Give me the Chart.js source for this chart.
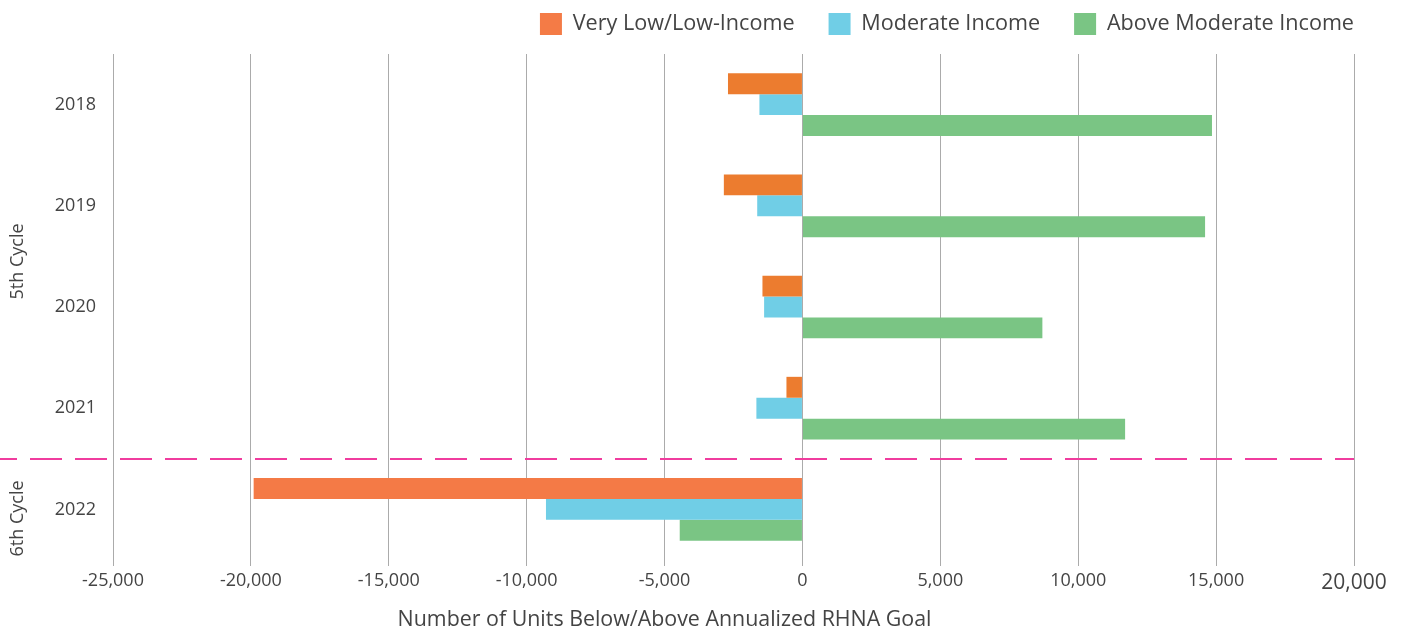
<!DOCTYPE html>
<html>
<head>
<meta charset="utf-8">
<title>RHNA progress by income level</title>
<script src="https://cdn.jsdelivr.net/npm/chart.js@4.4.1/dist/chart.umd.min.js"></script>
<style>
  html, body { margin: 0; padding: 0; background: #ffffff; }
  #wrap { position: relative; width: 1408px; height: 629px; }
</style>
</head>
<body>
<div id="wrap"><canvas id="chart"></canvas></div>
<script>
// Reporting years and the housing-element cycle each belongs to
const years = ['2018', '2019', '2020', '2021', '2022'];
const cycleGroups = [
  { label: '5th Cycle', first: 0, last: 3, shift: 5 },
  { label: '6th Cycle', first: 4, last: 4, shift: 9 }
];

// Units below (negative) or above (positive) the annualized RHNA goal
const veryLowLowIncome = [-2700, -2850, -1450, -580, -19900];
const moderateIncome = [-1560, -1640, -1390, -1670, -9300];
const aboveModerateIncome = [14850, 14600, 8700, 11700, -4450];

// Axis ticks
const xTickValues = [-25000, -20000, -15000, -10000, -5000, 0, 5000, 10000, 15000, 20000];

const seriesNames = ['Very Low/Low-Income', 'Moderate Income', 'Above Moderate Income'];
const legendColors = ['#F47B46', '#70CEE6', '#7AC584'];
const orangeBars = ['#EC7C2F', '#EC7C2F', '#EC7C2F', '#EC7C2F', '#F47A46'];

const FONT = '"Open Sans", "Noto Sans", sans-serif';
const TEXT = '#444444';

// Lift the legend row a little closer to the top edge
const legendLift = {
  id: 'legendLift',
  afterLayout(chart) {
    const lg = chart.legend;
    if (lg) { lg.top -= 9; lg.bottom -= 9; }
  }
};

// Dashed divider between the two cycles, cycle labels and the x-axis title
const annotations = {
  id: 'annotations',
  afterDatasetsDraw(chart) {
    const { ctx, chartArea, scales } = chart;
    const y = scales.y, x = scales.x;
    const step = y.getPixelForValue(1) - y.getPixelForValue(0);

    // divider between 2021 and 2022
    const yDiv = Math.round((y.getPixelForValue(3) + y.getPixelForValue(4)) / 2);
    ctx.save();
    ctx.strokeStyle = '#F03C9E';
    ctx.lineWidth = 2;
    ctx.setLineDash([32, 13]);
    ctx.lineDashOffset = 15;
    ctx.beginPath();
    ctx.moveTo(0, yDiv);
    ctx.lineTo(chartArea.right, yDiv);
    ctx.stroke();
    ctx.restore();

    // rotated cycle labels
    ctx.save();
    ctx.fillStyle = TEXT;
    ctx.font = '18px ' + FONT;
    ctx.textAlign = 'center';
    ctx.textBaseline = 'middle';
    cycleGroups.forEach(g => {
      const top = y.getPixelForValue(g.first) - step / 2;
      const bottom = y.getPixelForValue(g.last) + step / 2;
      const cy = (top + bottom) / 2 + g.shift;
      ctx.save();
      ctx.translate(18, cy);
      ctx.rotate(-Math.PI / 2);
      ctx.fillText(g.label, 0, 0);
      ctx.restore();
    });
    ctx.restore();

    // x-axis title
    ctx.save();
    ctx.fillStyle = TEXT;
    ctx.font = '21.4px ' + FONT;
    ctx.textAlign = 'center';
    ctx.textBaseline = 'middle';
    ctx.fillText('Number of Units Below/Above Annualized RHNA Goal', x.getPixelForValue(-5000), 620);
    ctx.restore();
  }
};

new Chart(document.getElementById('chart'), {
  type: 'bar',
  data: {
    labels: years,
    datasets: [
      { label: seriesNames[0], data: veryLowLowIncome, backgroundColor: orangeBars },
      { label: seriesNames[1], data: moderateIncome, backgroundColor: legendColors[1] },
      { label: seriesNames[2], data: aboveModerateIncome, backgroundColor: legendColors[2] }
    ]
  },
  options: {
    indexAxis: 'y',
    responsive: true,
    maintainAspectRatio: false,
    animation: false,
    categoryPercentage: 0.62,
    barPercentage: 1.0,
    layout: { padding: { left: 0, right: 20, top: -20, bottom: 0 } },
    plugins: {
      tooltip: { enabled: false },
      legend: {
        position: 'top',
        align: 'end',
        labels: {
          color: TEXT,
          font: { family: FONT, size: 21.6 },
          boxWidth: 22,
          boxHeight: 22,
          padding: 34,
          generateLabels(chart) {
            const items = Chart.defaults.plugins.legend.labels.generateLabels(chart);
            items.forEach((it, i) => { it.fillStyle = legendColors[i]; it.strokeStyle = legendColors[i]; it.lineWidth = 0; });
            return items;
          }
        }
      }
    },
    scales: {
      x: {
        min: -25000,
        max: 20000,
        afterBuildTicks(scale) { scale.ticks = xTickValues.map(v => ({ value: v })); },
        afterFit(scale) { scale.height = 69; scale.paddingLeft = 0; scale.paddingRight = 54; },
        border: { display: false },
        grid: { color: '#ABABAB', lineWidth: 1, drawTicks: true, tickLength: 6 },
        ticks: {
          color: TEXT,
          padding: 4,
          font: ctx => ({ family: FONT, size: ctx.tick && ctx.tick.value === 20000 ? 21 : 18 }),
          callback: v => v.toLocaleString('en-US')
        }
      },
      y: {
        afterFit(scale) { scale.width = 113; scale.paddingTop = 54; scale.paddingBottom = 0; },
        border: { display: false },
        grid: { display: false, drawTicks: false },
        ticks: { color: TEXT, padding: 17, font: { family: FONT, size: 18 } }
      }
    }
  },
  plugins: [legendLift, annotations]
});
</script>
</body>
</html>
